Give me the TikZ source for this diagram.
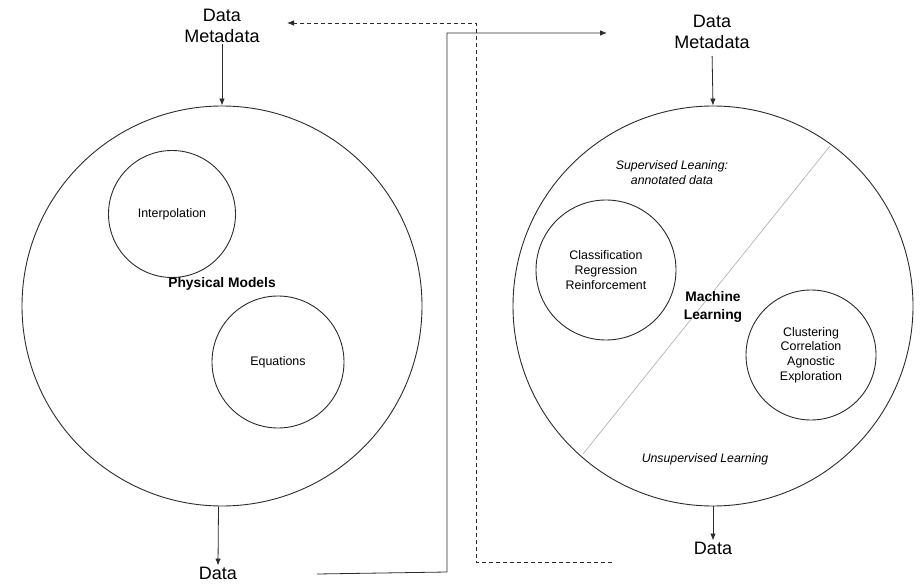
\documentclass[tikz,border=0pt]{standalone}
\usepackage{fontspec}
\setmainfont{Liberation Sans}
\usetikzlibrary{arrows.meta}
\definecolor{ink}{HTML}{2B2B2B}
\definecolor{divider}{HTML}{B4B4B4}
\tikzset{
  bigring/.style={draw=ink, line width=0.9pt, circle, minimum size=400pt, inner sep=0pt},
  smallring/.style={draw=ink, line width=0.9pt, circle, inner sep=0pt, align=center,
    font=\fontsize{12.4}{14.6}\selectfont},
  iolabel/.style={align=center, inner sep=1pt, text=black,
    font=\fontsize{18}{21.5}\selectfont},
  boldlabel/.style={align=center, inner sep=0pt, font=\bfseries\fontsize{13.8}{18}\selectfont},
  itlabel/.style={align=center, inner sep=0pt, font=\itshape\fontsize{12.3}{15}\selectfont},
  arr/.style={draw=ink, line width=0.8pt, -{Latex[length=7pt,width=5.5pt]}},
  link/.style={draw=ink, line width=0.8pt},
  backlink/.style={draw=ink, line width=0.8pt, dash pattern=on 4pt off 3pt},
}
\begin{document}
\begin{tikzpicture}[x=1pt, y=-1pt]
  \useasboundingbox (0,0) rectangle (923,585);

  % left model: physical models
  \node[bigring] (pm) at (222,306) {};
  \node[smallring, minimum size=127pt] (interp) at (172,214) {Interpolation};
  \node[smallring, minimum size=132pt] (eqs) at (278,362) {Equations};
  \node[boldlabel] (pmlabel) at (222,284) {Physical Models};

  \node[iolabel] (inL) at (222,26) {Data\\Metadata};
  \node[iolabel] (outL) at (218,573) {Data};
  \draw[arr] (inL.south) -- (pm.north);
  \draw[arr] (pm.-91.4) -- (outL.north);

  % right model: machine learning
  \node[bigring] (ml) at (713,306) {};
  \coordinate (divTop) at (830,146);
  \coordinate (divBot) at (583,454);
  \draw[divider, line width=0.7pt] (divTop) -- (divBot);
  \node[smallring, minimum size=140pt] (sup) at (606,270)
    {Classification\\Regression\\Reinforcement};
  \node[smallring, minimum size=130pt] (unsup) at (811,355)
    {Clustering\\Correlation\\Agnostic\\Exploration};
  \node[boldlabel] (mllabel) at (713,307) {Machine\\Learning};
  \node[itlabel] (suplabel) at (672,173) {Supervised Leaning:\\annotated data};
  \node[itlabel] (unsuplabel) at (705,459) {Unsupervised Learning};

  \node[iolabel] (inR) at (712,32) {Data\\Metadata};
  \node[iolabel] (outR) at (713,548) {Data};
  \draw[arr, shorten <=6pt] (inR.south) -- (ml.north);
  \draw[arr] (ml.south) -- (outR.north);

  % forward link from the left output to the right input
  \coordinate (fwdStart) at (317,574);
  \coordinate (fwdEnd) at (607,33);
  \draw[link, -{Latex[length=7pt,width=5.5pt]}]
    (fwdStart) -- (447,572) -- (447,33) -- (fwdEnd);

  % feedback link from the right output back to the left input
  \coordinate (backStart) at (612,562);
  \coordinate (backEnd) at (287,23);
  \draw[backlink, -{Latex[length=7pt,width=5.5pt]}]
    (backStart) -- (476,562) -- (476,23) -- (backEnd);
\end{tikzpicture}
\end{document}
